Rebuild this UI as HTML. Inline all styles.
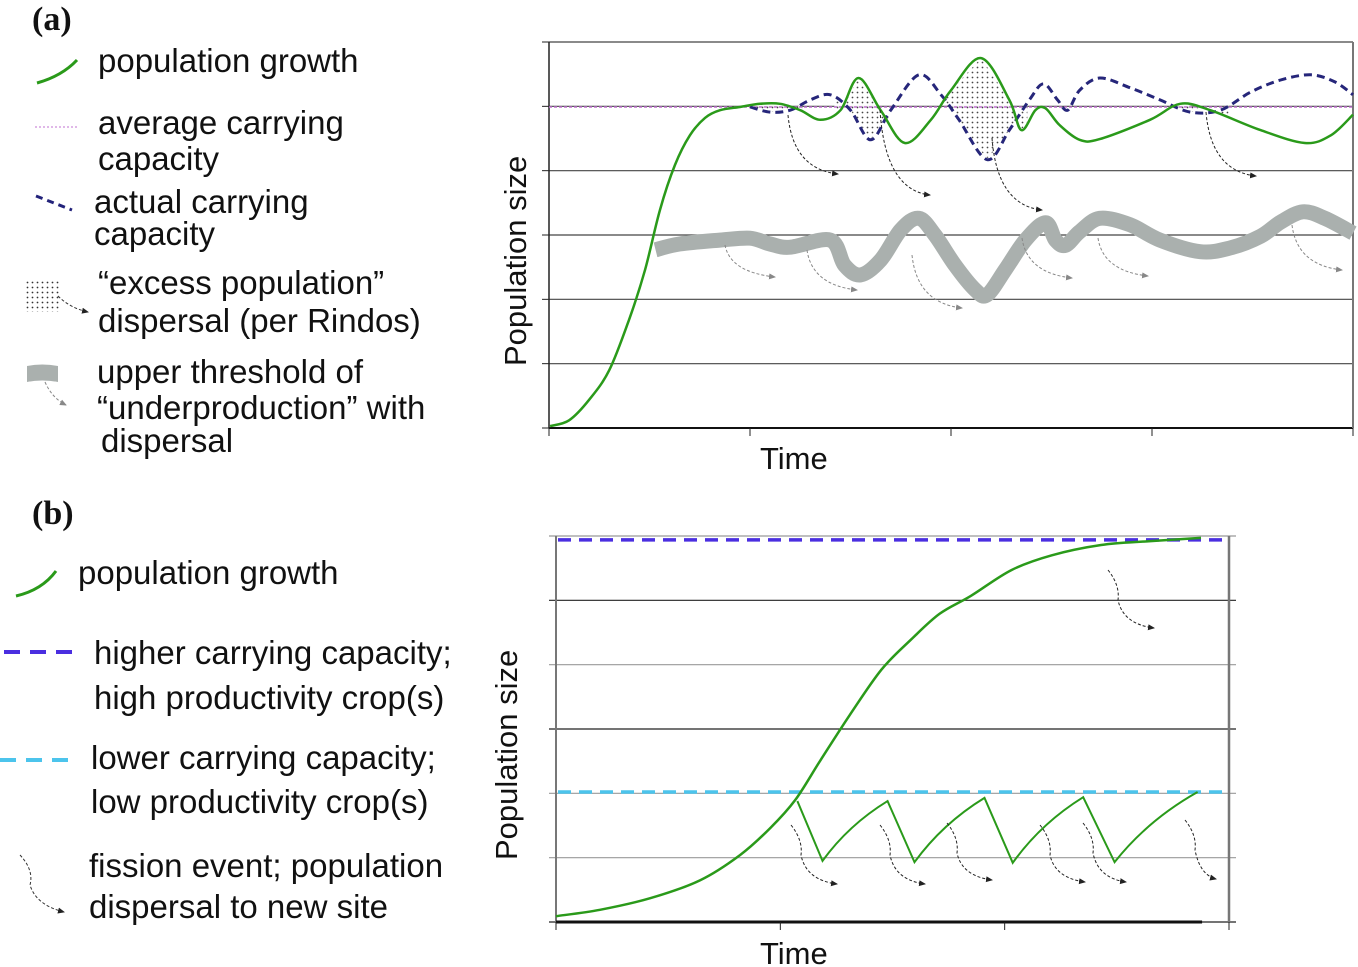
<!DOCTYPE html>
<html><head><meta charset="utf-8"><style>
html,body{margin:0;padding:0;background:#fff;}
svg{display:block;font-family:"Liberation Sans",sans-serif;}
</style></head><body>
<svg id="svg" width="1358" height="967" viewBox="0 0 1358 967" xmlns="http://www.w3.org/2000/svg">
<defs>
<pattern id="dots" width="5" height="5" patternUnits="userSpaceOnUse"><rect width="5" height="5" fill="#fff"/><circle cx="2.5" cy="2.5" r="0.9" fill="#333"/></pattern>
<marker id="ah" markerWidth="8" markerHeight="8" refX="6" refY="4" orient="auto"><path d="M0,1 L7,4 L0,7 Z" fill="#222"/></marker>
<marker id="ahg" markerWidth="8" markerHeight="8" refX="6" refY="4" orient="auto"><path d="M0,1 L7,4 L0,7 Z" fill="#888"/></marker>
</defs>
<!-- legend a -->
<g font-size="33" fill="#111">
<text x="32" y="30" font-family="Liberation Serif,serif" font-weight="bold" font-size="34">(a)</text>
<path d="M37,83 Q62,76 77,60" stroke="#2a9a1a" stroke-width="3" fill="none"/>
<text x="98" y="72">population growth</text>
<line x1="35" y1="127" x2="78" y2="127" stroke="#c070d0" stroke-width="1" stroke-dasharray="2,2"/>
<text x="98" y="134">average carrying</text>
<text x="98" y="170">capacity</text>
<path d="M36,196 L72,210" stroke="#22227a" stroke-width="3" stroke-dasharray="7,5"/>
<text x="94" y="213">actual  carrying</text>
<text x="94" y="245">capacity</text>
<rect x="24" y="280" width="36" height="32" fill="url(#dots)"/>
<path d="M58,296 Q70,308 88,312" stroke="#333" stroke-width="1" stroke-dasharray="3,2" fill="none" marker-end="url(#ah)"/>
<text x="98" y="294">“excess population”</text>
<text x="98" y="332">dispersal (per Rindos)</text>
<path d="M27,366 Q42,363 58,366 L58,382 Q42,379 27,382 Z" fill="#aab0ae"/>
<path d="M45,382 Q52,398 66,405" stroke="#888" stroke-width="1" stroke-dasharray="3,2" fill="none" marker-end="url(#ahg)"/>
<text x="97" y="383">upper threshold of</text>
<text x="97" y="419">“underproduction” with</text>
<text x="101" y="452">dispersal</text>
</g>
<!-- legend b -->
<g font-size="33" fill="#111">
<text x="32" y="524" font-family="Liberation Serif,serif" font-weight="bold" font-size="34">(b)</text>
<path d="M16,596 Q42,590 56,571" stroke="#2a9a1a" stroke-width="3" fill="none"/>
<text x="78" y="584">population growth</text>
<line x1="4" y1="652" x2="78" y2="652" stroke="#4a2ee0" stroke-width="4" stroke-dasharray="16,10"/>
<text x="94" y="664">higher carrying capacity;</text>
<text x="94" y="709">high productivity crop(s)</text>
<line x1="0" y1="760" x2="74" y2="760" stroke="#4cc4ec" stroke-width="4" stroke-dasharray="16,10"/>
<text x="91" y="769">lower carrying capacity;</text>
<text x="91" y="813">low productivity crop(s)</text>
<path d="M20,855 Q34,870 30,885 Q36,905 64,912" stroke="#333" stroke-width="1" stroke-dasharray="3,2" fill="none" marker-end="url(#ah)"/>
<text x="89" y="877">fission event; population</text>
<text x="89" y="918">dispersal to new site</text>
</g>
<g id="chartA"></g>
<g id="chartB"></g>
</svg>
<script>
// ---- Panel (a) data: [time, population] ----
const aGrowthT = [0.05,1.0,2.0,3.0,3.98,4.78,5.52,6.27,7.01,7.76,8.51,9.5,10.5,11.5,12.5,13.5,14.5,15.4,16.5,17.7,19.0,20.0,21.5,22.9,23.5,24.2,24.7,25.4,26.4,27.4,29.9,31.4,32.9,35.4,37.6,38.9,40];
const aGrowthY = [0.03,0.12,0.44,0.90,1.68,2.46,3.39,4.09,4.55,4.82,4.94,4.99,5.04,5.04,4.94,4.79,4.94,5.44,4.94,4.43,4.79,5.25,5.75,5.10,4.63,4.94,4.97,4.71,4.48,4.49,4.79,5.04,4.94,4.63,4.43,4.55,4.87];
const aActualT = [10,11,12,13,14,15,16,17,18.4,19.5,20.4,21.8,22.9,23.9,24.6,25.3,25.8,26.4,27.4,28.9,30.4,31.9,33.4,34.9,36.4,37.9,39.1,40];
const aActualY = [4.99,4.91,4.94,5.10,5.18,4.94,4.48,4.94,5.49,5.18,4.79,4.17,4.63,5.10,5.35,5.10,4.94,5.25,5.44,5.29,5.10,4.91,4.94,5.22,5.41,5.49,5.38,5.18];
const aThreshT = [5.3,6.5,8.5,10,11,12,14,14.7,15.5,16.5,17.5,18.4,19.2,20.2,21.2,21.8,22.7,23.7,24.7,25.2,25.7,26.4,27.4,28.9,30.4,32.4,33.9,35.4,36.4,37.5,38.6,40];
const aThreshY = [2.77,2.86,2.92,2.95,2.86,2.81,2.92,2.53,2.38,2.61,3.08,3.26,3.0,2.53,2.15,2.07,2.46,2.92,3.19,2.92,2.84,3.05,3.26,3.16,2.92,2.74,2.80,2.98,3.20,3.36,3.26,3.03];
const aAvgK = 4.99;
const aExcessRanges = [[10,12.6],[14.2,17.0],[19.7,23.8],[31.2,33.8]];
const aXTicks = [0,10,20,30,40];
const aYTicks = [0,1,2,3,4,5,6];
// ---- Panel (b) data ----
const bGrowthT = [0,1.96,4.2,6.43,8.2,9.55,10.67,11.8,13.1,14.5,15.8,17.1,18.5,20.3,22.1,24.3,26.5,28.75];
const bGrowthY = [0.09,0.19,0.37,0.65,1.04,1.46,1.90,2.52,3.22,3.92,4.38,4.79,5.07,5.47,5.70,5.86,5.92,5.97];
const bSawT = [10.76,11.88,14.78,15.98,19.1,20.36,23.5,24.9,28.6];
const bSawY = [1.88,0.95,1.88,0.93,1.93,0.92,1.94,0.93,2.02];
const bHighK = 5.94;
const bLowK = 2.02;
const bXTicks = [0,10,20,30];
const bYTicks = [0,1,2,3,4,5,6];

const NS = "http://www.w3.org/2000/svg";
function mk(parent, tag, attrs){const e=document.createElementNS(NS,tag);for(const k in attrs)e.setAttribute(k,attrs[k]);parent.appendChild(e);return e;}
function smooth(pts){let d="M"+pts[0][0]+","+pts[0][1];for(let i=0;i<pts.length-1;i++){const p0=pts[Math.max(0,i-1)],p1=pts[i],p2=pts[i+1],p3=pts[Math.min(pts.length-1,i+2)];const c1=[p1[0]+(p2[0]-p0[0])/6,p1[1]+(p2[1]-p0[1])/6],c2=[p2[0]-(p3[0]-p1[0])/6,p2[1]-(p3[1]-p1[1])/6];d+=" C"+c1[0].toFixed(1)+","+c1[1].toFixed(1)+" "+c2[0].toFixed(1)+","+c2[1].toFixed(1)+" "+p2[0].toFixed(1)+","+p2[1].toFixed(1);}return d;}
function interp(T,Y,t){if(t<=T[0])return Y[0];for(let i=0;i<T.length-1;i++){if(t<=T[i+1]){const f=(t-T[i])/(T[i+1]-T[i]);return Y[i]+f*(Y[i+1]-Y[i]);}}return Y[Y.length-1];}

// ---- chart A ----
(function(){
const g=document.getElementById('chartA');
const L=549,R=1353,T=42,B=428;
const x=t=>L+(t-0)/(40-0)*(R-L);
const y=v=>B-(v-0)/(6-0)*(B-T);
aYTicks.forEach(v=>{const ln=mk(g,'line',{x1:L,x2:R,y1:y(v),y2:y(v),stroke:v===0?'#111':'#444','stroke-width':v===0?2:1.2});


mk(g,'line',{x1:L-7,x2:L,y1:y(v),y2:y(v),stroke:'#222','stroke-width':1});});
const ax=mk(g,'line',{x1:L,x2:L,y1:T,y2:B,stroke:'#222','stroke-width':1.5});


const rb=mk(g,'line',{x1:R,x2:R,y1:T,y2:B,stroke:'#777','stroke-width':2});


aXTicks.forEach(t=>{const tk=mk(g,'line',{x1:x(t),x2:x(t),y1:B,y2:B+8,stroke:'#222','stroke-width':1});

});
aExcessRanges.forEach(r=>{const pts1=[],pts2=[];const n=30;for(let i=0;i<=n;i++){const t=r[0]+(r[1]-r[0])*i/n;pts1.push(x(t)+","+y(interp(aGrowthT,aGrowthY,t)));pts2.unshift(x(t)+","+y(interp(aActualT,aActualY,t)));}
const p=mk(g,'polygon',{points:pts1.concat(pts2).join(" "),fill:'url(#dots)',opacity:0.9});

});
const avg=mk(g,'line',{x1:L,x2:R,y1:y(aAvgK),y2:y(aAvgK),stroke:'#c070d0','stroke-width':1.5,'stroke-dasharray':'3,2'});


const th=mk(g,'path',{d:smooth(aThreshT.map((t,i)=>[x(t),y(aThreshY[i])])),stroke:'#aab0ae','stroke-width':15,fill:'none','stroke-linejoin':'round'});


const ac=mk(g,'path',{d:smooth(aActualT.map((t,i)=>[x(t),y(aActualY[i])])),stroke:'#26267a','stroke-width':3,fill:'none','stroke-dasharray':'8,5'});


const gr=mk(g,'path',{d:smooth(aGrowthT.map((t,i)=>[x(t),y(aGrowthY[i])])),stroke:'#2a9a1a','stroke-width':2.5,fill:'none'});


[[712,115,838,174,'#222','ah'],[752,110,930,195,'#222','ah'],[820,138,1042,210,'#222','ah'],[1194,112,1256,176,'#222','ah'],
 [683,245,775,277,'#888','ahg'],[735,250,857,290,'#888','ahg'],[800,255,962,308,'#888','ahg'],[869,238,1072,278,'#888','ahg'],[918,238,1148,276,'#888','ahg'],[1042,225,1342,270,'#888','ahg']].forEach(a=>{
const p=mk(g,'path',{d:`M${a[2]-50},${a[1]} Q${a[2]-45},${a[3]-5} ${a[2]},${a[3]}`,stroke:a[4],'stroke-width':1,'stroke-dasharray':'3,2',fill:'none','marker-end':`url(#${a[5]})`});

});
const yl=mk(g,'text',{x:0,y:0,transform:'translate(526,366) rotate(-90)','font-size':31,fill:'#111'});yl.textContent='Population size';


const xl=mk(g,'text',{x:760,y:469,'font-size':31,fill:'#111'});xl.textContent='Time';


})();

// ---- chart B ----
(function(){
const g=document.getElementById('chartB');
const L=556,R=1229,T=536,B=922;
const x=t=>L+(t-0)/(30-0)*(R-L);
const y=v=>B-(v-0)/(6-0)*(B-T);
bYTicks.forEach(v=>{const dark=(v===0||v===3||v===5);const ln=mk(g,'line',{x1:L-7,x2:R+7,y1:y(v),y2:y(v),stroke:dark?'#222':'#999','stroke-width':1.2});

});
const ax=mk(g,'line',{x1:L,x2:L,y1:T,y2:B,stroke:'#777','stroke-width':2});


const rb=mk(g,'line',{x1:R,x2:R,y1:T,y2:B,stroke:'#777','stroke-width':2.5});


const bx=mk(g,'line',{x1:L,x2:x(28.8),y1:B,y2:B,stroke:'#111','stroke-width':3});


bXTicks.forEach(t=>{const tk=mk(g,'line',{x1:x(t),x2:x(t),y1:B,y2:B+8,stroke:'#222','stroke-width':1});

});
const hk=mk(g,'line',{x1:L+2,x2:R,y1:y(bHighK),y2:y(bHighK),stroke:'#4a2ee0','stroke-width':3.5,'stroke-dasharray':'13,8'});


const lk=mk(g,'line',{x1:L+2,x2:R,y1:y(bLowK),y2:y(bLowK),stroke:'#4cc4ec','stroke-width':3.5,'stroke-dasharray':'13,8'});


const gr=mk(g,'path',{d:smooth(bGrowthT.map((t,i)=>[x(t),y(bGrowthY[i])])),stroke:'#2a9a1a','stroke-width':2.5,fill:'none'});


let sd="M"+x(bSawT[0])+","+y(bSawY[0]);
for(let i=1;i<bSawT.length;i++){const x0=x(bSawT[i-1]),y0=y(bSawY[i-1]),x1=x(bSawT[i]),y1=y(bSawY[i]);
 if(y1<y0){sd+=` Q${x0+(x1-x0)*0.4},${y0-(y0-y1)*0.6} ${x1},${y1}`;}else{sd+=` L${x1},${y1}`;}}
const sw=mk(g,'path',{d:sd,stroke:'#2a9a1a','stroke-width':2,fill:'none'});


[[1108,570,1154,628],[791,825,837,884],[880,825,925,884],[947,823,992,880],[1040,825,1085,882],[1083,823,1126,882],[1185,820,1216,879]].forEach(a=>{
const p=mk(g,'path',{d:`M${a[0]},${a[1]} Q${a[0]+12},${a[1]+15} ${a[0]+10},${a[1]+30} Q${a[0]+15},${a[3]-4} ${a[2]},${a[3]}`,stroke:'#222','stroke-width':1,'stroke-dasharray':'3,2',fill:'none','marker-end':'url(#ah)'});

});
const yl=mk(g,'text',{x:0,y:0,transform:'translate(517,860) rotate(-90)','font-size':31,fill:'#111'});yl.textContent='Population size';


const xl=mk(g,'text',{x:760,y:964,'font-size':31,fill:'#111'});xl.textContent='Time';


})();
</script>
</body></html>
